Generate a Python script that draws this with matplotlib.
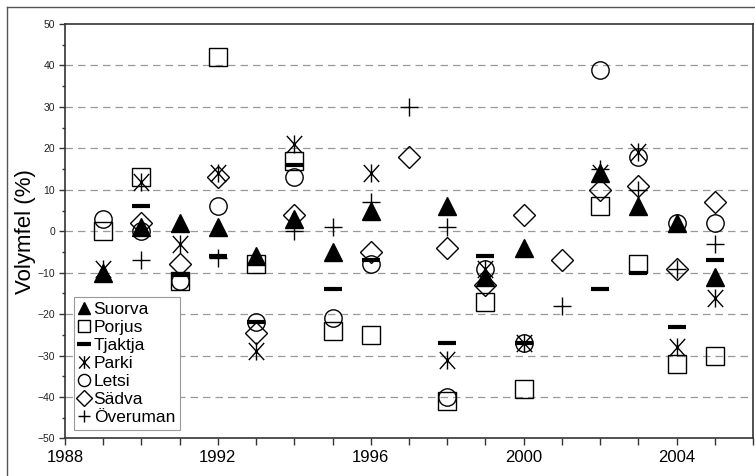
import numpy as np
import matplotlib
matplotlib.use("Agg")
import matplotlib.pyplot as plt
from matplotlib.path import Path
from matplotlib.lines import Line2D

plt.rcParams['font.family'] = ['Liberation Sans', 'DejaVu Sans']

nan = np.nan
years = [1989, 1990, 1991, 1992, 1993, 1994, 1995, 1996, 1997,
         1998, 1999, 2000, 2001, 2002, 2003, 2004, 2005]

suorva   = [-10, 1, 2, 1, -6, 3, -5, 5, nan, 6, -11, -4, nan, 14, 6, 2, -11]
porjus   = [0, 13, -12, 42, -8, 17, -24, -25, nan, -41, -17, -38, nan, 6, -8, -32, -30]
tjaktja  = [nan, 6, -10.5, -6, -22, 16, -14, -7, nan, -27, -6, -27, nan, -14, -10, -23, -7]
parki    = [-9, 12, -3, 14, -29, 21, nan, 14, nan, -31, -9, -27, nan, 14, 19, -28, -16]
letsi    = [3, 0, -12, 6, -22, 13, -21, -8, nan, -40, -9, -27, nan, 39, 18, 2, 2]
sadva    = [nan, 2, -8, 13, -24.5, 4, nan, -5, 18, -4, -13, 4, -7, 10, 11, -9, 7]
overuman = [nan, -7, nan, -6.5, nan, 0, 1, 7, 30, 1, nan, nan, -18, 15, 10, -9, -3]

# asterisk: vertical bar plus an X
ast = Path([(0, -1), (0, 1), (-0.85, -0.95), (0.85, 0.95), (-0.85, 0.95), (0.85, -0.95)],
           [Path.MOVETO, Path.LINETO, Path.MOVETO, Path.LINETO, Path.MOVETO, Path.LINETO])

fig = plt.figure(figsize=(7.55, 4.76), dpi=100)
ax = fig.add_axes([0.0861, 0.0788, 0.9113, 0.8708])

k = dict(linestyle='none', color='black')
ax.plot(years, suorva, marker='^', ms=13, mfc='black', mew=1, label='Suorva', **k)
ax.plot(years, porjus, marker='s', ms=12.5, mfc='none', mew=1, label='Porjus', **k)
ax.plot(years, tjaktja, marker='_', ms=13.5, mew=3, label='Tjaktja', **k)
ax.plot(years, parki, marker=ast, ms=13, mew=1, label='Parki', **k)
ax.plot(years, letsi, marker='o', ms=12.5, mfc='none', mew=1, label='Letsi', **k)
ax.plot(years, sadva, marker='D', ms=11.2, mfc='none', mew=1, label='Sädva', **k)
ax.plot(years, overuman, marker='+', ms=13, mew=1, label='Överuman', **k)

ax.set_xlim(1988, 2006)
ax.set_ylim(-50, 50)
ax.set_xticks(range(1988, 2007))
ax.set_xticklabels([str(y) if (y - 1988) % 4 == 0 else '' for y in range(1988, 2007)])
ax.set_yticks(range(-50, 51, 10))
ax.set_yticks(range(-45, 50, 10), minor=True)
ax.tick_params(axis='x', length=5, width=1, labelsize=12, pad=3, colors='#333', labelcolor='black')
ax.tick_params(axis='y', length=4, width=1, labelsize=7.5, pad=3, colors='#333', labelcolor='#222')
ax.tick_params(axis='y', which='minor', length=2.5, width=1, colors='#333')

for g in range(-40, 50, 10):
    ax.axhline(g, color='#999999', lw=0.9, ls=(0, (6, 4)), zorder=0)

for s in ax.spines.values():
    s.set_color('#333333')
    s.set_linewidth(1.2)

ax.set_ylabel('Volymfel (%)', fontsize=16, labelpad=1)

leg = ax.legend(loc='lower left', bbox_to_anchor=(0.0, 0.0), fontsize=12.5,
                markerscale=0.7, handlelength=0.6, handletextpad=0.25,
                labelspacing=0.16, borderpad=0.3, borderaxespad=0.5,
                fancybox=False, edgecolor='#999999', framealpha=1)
leg.get_frame().set_linewidth(0.8)

# outer frame of the picture (top and left edges)
fig.add_artist(Line2D([7 / 755, 7 / 755], [0, 1 - 7 / 476], transform=fig.transFigure,
                      color='#555555', lw=1))
fig.add_artist(Line2D([7 / 755, 1], [1 - 7 / 476, 1 - 7 / 476], transform=fig.transFigure,
                      color='#555555', lw=1))

fig.savefig('out.png', dpi=100)
